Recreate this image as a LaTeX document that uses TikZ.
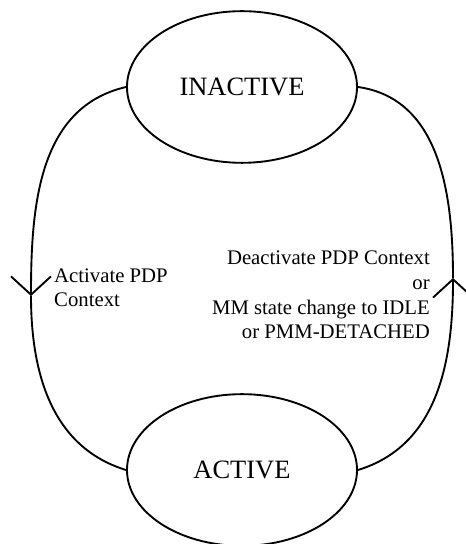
\documentclass[tikz,border=0pt]{standalone}
\usepackage{fontspec}
\setmainfont{Liberation Serif}
\usetikzlibrary{arrows.meta,shapes.geometric,positioning}

\tikzset{
  state/.style={draw,ellipse,line width=1.6pt,minimum width=6.9cm,minimum height=4.55cm,inner sep=0pt,font=\fontsize{22.6}{26}\selectfont},
  trans/.style={line width=1.6pt},
  barb/.style={-{Straight Barb[length=0.55cm,width=1.2cm,line width=1.6pt]}},
  lbl/.style={inner sep=0pt,font=\fontsize{17.7}{21.3}\selectfont}
}

\begin{document}
\begin{tikzpicture}[x=0.03cm,y=0.03cm]
\useasboundingbox (0,0) rectangle (465,544);

\node[state] (inactive) at (242,457) {INACTIVE};
\node[state] (active) at (242,74) {ACTIVE};

\coordinate (lmid) at (31,248);
\coordinate (rmid) at (453,266);

% left arc, downwards
\draw[trans,barb] (inactive.west) to[out=193,in=90] (lmid);
\draw[trans] (lmid) to[out=-90,in=163] (active.west);
% right arc, upwards
\draw[trans,barb] (active.east) to[out=17,in=-90] (rmid);
\draw[trans] (rmid) to[out=90,in=-8] (inactive.east);

\node[lbl,anchor=base west,align=left] (actlbl) at (54,237) {Activate PDP\\Context};
\node[lbl,anchor=base east,align=right] (deactlbl) at (430,205) {Deactivate PDP Context\\or\\MM state change to IDLE\\or PMM-DETACHED};
\end{tikzpicture}
\end{document}
